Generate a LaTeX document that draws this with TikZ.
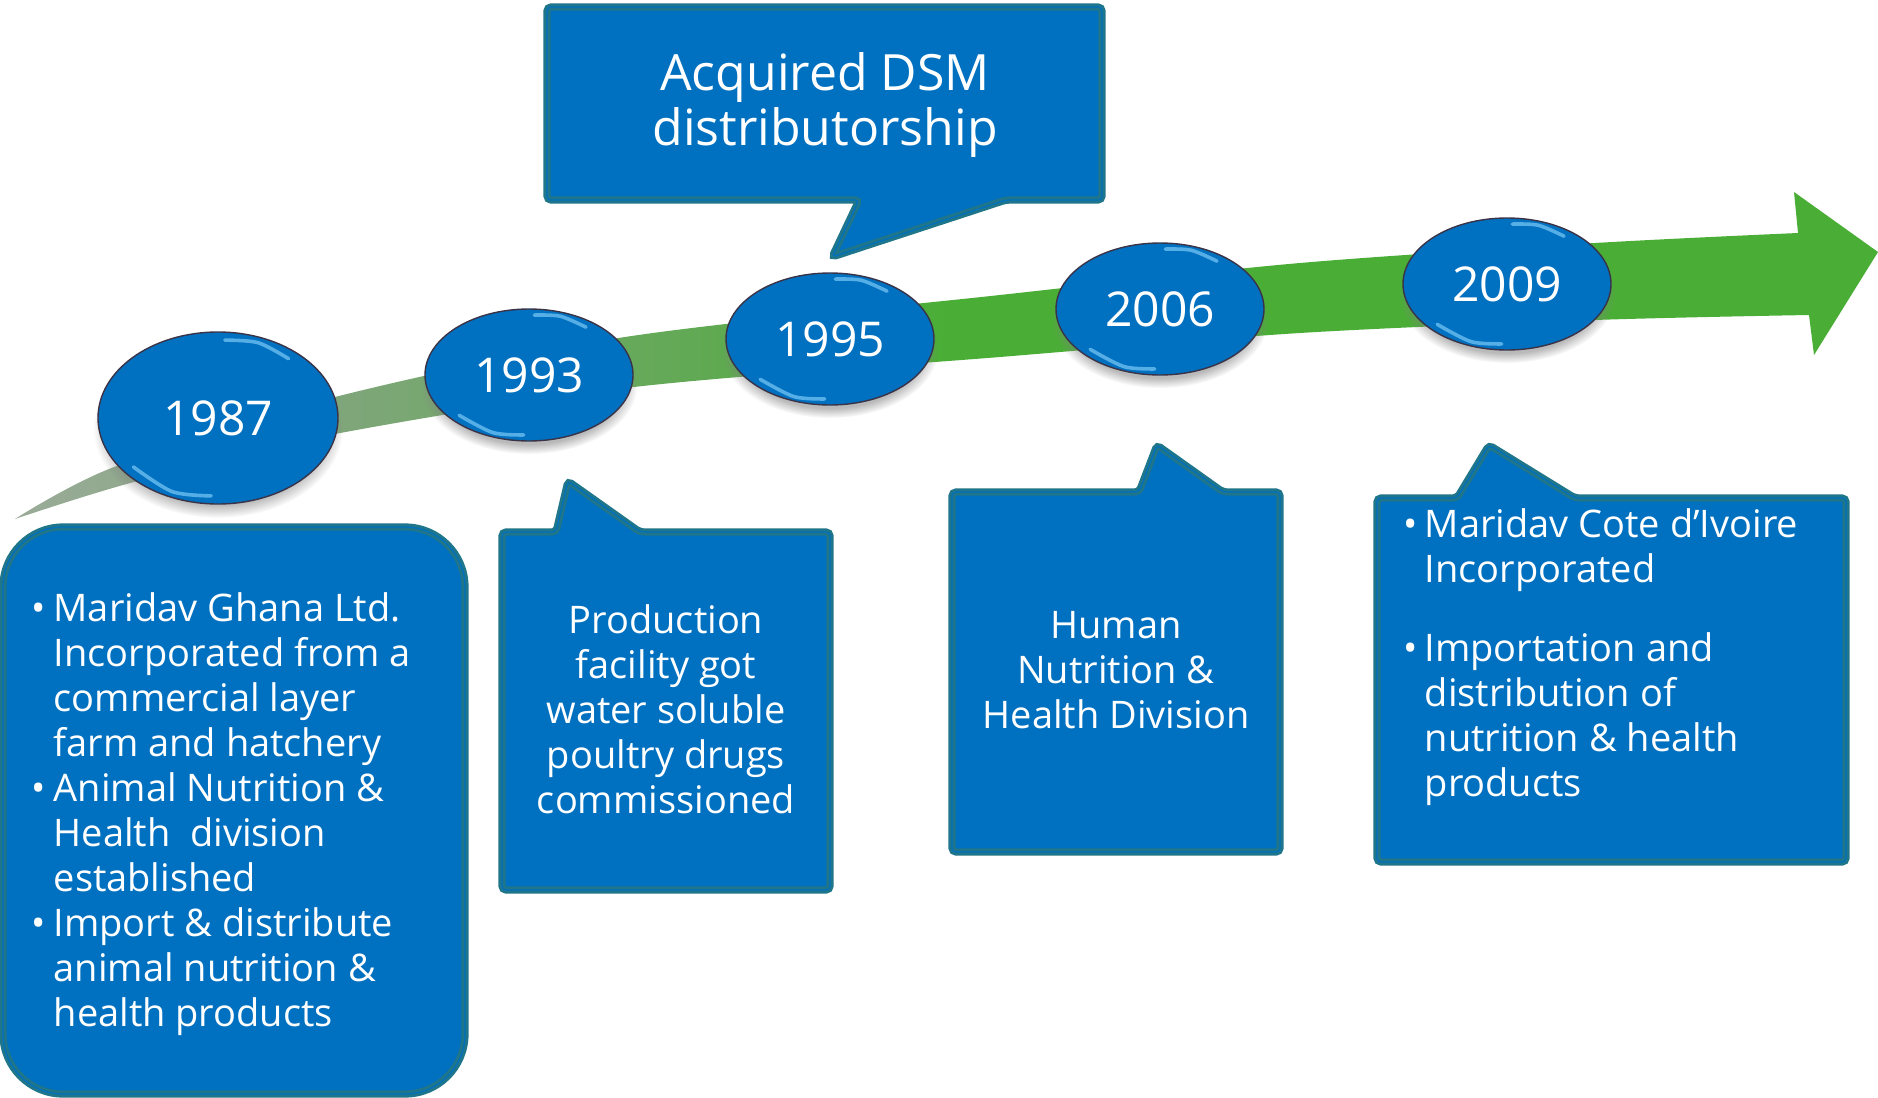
\documentclass[tikz,border=0pt]{standalone}
\usepackage{fontspec}
\setmainfont{Open Sans}
\usetikzlibrary{shapes.geometric,shadows,calc}
\definecolor{boxblue}{HTML}{0070C0}
\definecolor{rimteal}{HTML}{1F758A}
\definecolor{bandgreen}{HTML}{4AAE36}
\definecolor{bandgrey}{HTML}{9AAB98}
\definecolor{bandsage}{HTML}{80A67B}
\definecolor{bandmid}{HTML}{62A955}
\definecolor{ringdark}{HTML}{3A3348}
\definecolor{glossblue}{HTML}{8FD8FF}
\pgfdeclarehorizontalshading{bandfade}{100bp}{color(0bp)=(bandgrey); color(25bp)=(bandgrey); color(33.5bp)=(bandsage); color(43bp)=(bandmid); color(50bp)=(bandgreen); color(100bp)=(bandgreen)}
\begin{document}
\begin{tikzpicture}[x=0.5pt,y=-0.5pt,
	yearball/.style={ellipse,fill=boxblue,draw=ringdark,line width=0.7pt,minimum width=104pt,minimum height=66pt,inner sep=0pt,text=white,font=\fontsize{24}{28}\selectfont,circular drop shadow={shadow xshift=0pt,shadow yshift=-5pt,shadow scale=1.04,opacity=0.55}},
	callbox/.style={fill=boxblue,draw=rimteal,double=boxblue,double distance=0.6pt,line width=1.5pt,rounded corners=2pt},
	note/.style={text=white,align=center,inner sep=0pt,font=\fontsize{19}{22.5}\selectfont},
	itemlist/.style={text=white,anchor=base west,inner sep=0pt,font=\fontsize{19}{22.5}\selectfont},
	gloss/.style={glossblue,line width=1.8pt,opacity=0.6,line cap=round}]
	\useasboundingbox (0,0) rectangle (1878,1097);
	% green time band
	\shade[shading=bandfade] plot[smooth] coordinates {(15,519) (114,467) (335,397) (625,337) (1000,295) (1300,263) (1595,243) (1798,233)} -- (1794,192) -- (1878,252) -- (1814,355) -- plot[smooth] coordinates {(1809,315) (1595,320) (1300,333) (1000,357) (634,387) (335,434) (134,482) (15,519)} -- cycle;
	% boxes
	\draw[callbox,rounded corners=30pt] (3,527) rectangle (465,1094);
	\draw[callbox] (547,7) -- (1102,7) -- (1102,200) -- (1006,200) -- (832,257) -- (859,200) -- (547,200) -- cycle;
	\draw[callbox] (502,532) -- (556,532) -- (568,481) -- (640,532) -- (830,532) -- (830,890) -- (502,890) -- cycle;
	\draw[callbox] (952,492) -- (1139,492) -- (1157,445) -- (1223,492) -- (1280,492) -- (1280,852) -- (952,852) -- cycle;
	\draw[callbox] (1377,498) -- (1457,498) -- (1489,445) -- (1575,498) -- (1846,498) -- (1846,862) -- (1377,862) -- cycle;
	\node[note,font=\fontsize{25}{27.5}\selectfont] (dsm) at (825,105) {Acquired DSM\\distributorship};
	\node[note] (n93) at (666,709) {Production\\facility got\\water soluble\\poultry drugs\\commissioned};
	\node[note] (n06) at (1116,670) {Human\\Nutrition \&\\Health Division};
	\node[itemlist] (n87) at (31,621) {\begin{tabular}[t]{@{}l@{\hspace{4pt}}l@{}}
		\textbullet & Maridav Ghana Ltd.\\
		 & Incorporated from a\\
		 & commercial layer\\
		 & farm and hatchery\\
		\textbullet & Animal Nutrition \&\\
		 & Health\ \ division\\
		 & established\\
		\textbullet & Import \& distribute\\
		 & animal nutrition \&\\
		 & health products
	\end{tabular}};
	\node[itemlist] (n09) at (1403,537) {\begin{tabular}[t]{@{}l@{\hspace{3.5pt}}l@{}}
		\textbullet & Maridav Cote d’Ivoire\\
		 & Incorporated\\[17pt]
		\textbullet & Importation and\\
		 & distribution of\\
		 & nutrition \& health\\
		 & products
	\end{tabular}};
	% year bubbles
	\node[yearball,minimum width=120pt,minimum height=86pt] (y87) at (218,418) {1987};
	\node[yearball] (y93) at (529,375) {1993};
	\node[yearball] (y95) at (830,339) {1995};
	\node[yearball] (y06) at (1160,309) {2006};
	\node[yearball] (y09) at (1507,284) {2009};
	\foreach \n in {y87,y93,y95,y06,y09} {
		\draw[gloss] plot[smooth] coordinates {($(\n.center)!0.9!(\n.85)$) ($(\n.center)!0.93!(\n.62)$) ($(\n.center)!0.9!(\n.40)$)};
		\draw[gloss] plot[smooth] coordinates {($(\n.center)!0.9!(\n.-150)$) ($(\n.center)!0.93!(\n.-122)$) ($(\n.center)!0.9!(\n.-95)$)};
	}
\end{tikzpicture}
\end{document}
